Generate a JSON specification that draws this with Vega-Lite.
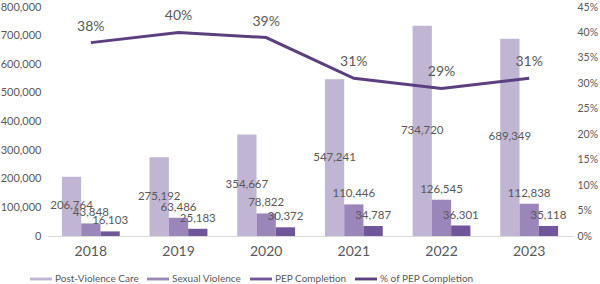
{
  "$schema": "https://vega.github.io/schema/vega-lite/v6.json",
  "width": 526,
  "height": 229,
  "autosize": {"type": "none"},
  "padding": {"left": 47, "right": 27, "top": 7, "bottom": 48},
  "config": {
    "font": "Lato",
    "view": {"stroke": null},
    "axis": {"labelColor": "#595959", "labelFont": "Lato", "grid": false, "ticks": false, "domain": false, "title": null}
  },
  "datasets": {
    "bars": [
      {"year": "2018", "category": "Post-Violence Care", "value": 206764},
      {"year": "2018", "category": "Sexual Violence", "value": 43848},
      {"year": "2018", "category": "PEP Completion", "value": 16103},
      {"year": "2019", "category": "Post-Violence Care", "value": 275192},
      {"year": "2019", "category": "Sexual Violence", "value": 63486},
      {"year": "2019", "category": "PEP Completion", "value": 25183},
      {"year": "2020", "category": "Post-Violence Care", "value": 354667},
      {"year": "2020", "category": "Sexual Violence", "value": 78822},
      {"year": "2020", "category": "PEP Completion", "value": 30372},
      {"year": "2021", "category": "Post-Violence Care", "value": 547241},
      {"year": "2021", "category": "Sexual Violence", "value": 110446},
      {"year": "2021", "category": "PEP Completion", "value": 34787},
      {"year": "2022", "category": "Post-Violence Care", "value": 734720},
      {"year": "2022", "category": "Sexual Violence", "value": 126545},
      {"year": "2022", "category": "PEP Completion", "value": 36301},
      {"year": "2023", "category": "Post-Violence Care", "value": 689349},
      {"year": "2023", "category": "Sexual Violence", "value": 112838},
      {"year": "2023", "category": "PEP Completion", "value": 35118}
    ],
    "pct": [
      {"year": "2018", "pct": 0.38},
      {"year": "2019", "pct": 0.40},
      {"year": "2020", "pct": 0.39},
      {"year": "2021", "pct": 0.31},
      {"year": "2022", "pct": 0.29},
      {"year": "2023", "pct": 0.31}
    ]
  },
  "encoding": {
    "x": {
      "field": "year", "type": "nominal",
      "scale": {"paddingInner": 0.34, "paddingOuter": 0.17},
      "axis": {"labelAngle": 0, "labelFontSize": 14, "domain": true, "domainColor": "#d9d9d9", "labelPadding": 8}
    }
  },
  "layer": [
    {
      "layer": [
        {
          "data": {"name": "bars"},
          "mark": {"type": "bar"},
          "encoding": {
            "xOffset": {"field": "category", "type": "nominal", "scale": {"domain": ["Post-Violence Care", "Sexual Violence", "PEP Completion"], "paddingInner": 0}},
            "y": {"field": "value", "type": "quantitative", "scale": {"domain": [0, 800000]},
              "axis": {"values": [0, 100000, 200000, 300000, 400000, 500000, 600000, 700000, 800000], "format": ",.0f", "labelFontSize": 11, "labelPadding": 6}},
            "color": {
              "field": "category", "type": "nominal",
              "scale": {"domain": ["Post-Violence Care", "Sexual Violence", "PEP Completion", "% of PEP Completion"], "range": ["#c0b5d3", "#9b86b9", "#71559a", "#5b3f7f"]},
              "legend": {
                "title": null, "orient": "none", "direction": "horizontal", "legendX": -17, "legendY": 261,
                "symbolType": "M-1,-0.13H1V0.13H-1Z", "symbolSize": 484, "symbolStrokeWidth": 0,
                "labelFontSize": 10, "labelColor": "#595959", "columnPadding": 8, "labelOffset": 3
              }
            }
          }
        },
        {
          "data": {"name": "bars"},
          "transform": [
            {"filter": "datum.category == 'Post-Violence Care'"},
            {"calculate": "datum.value / 2", "as": "mid"}
          ],
          "mark": {"type": "text", "fontSize": 11.5, "color": "#595959", "baseline": "middle"},
          "encoding": {
            "xOffset": {"field": "category", "type": "nominal"},
            "y": {"field": "mid", "type": "quantitative", "scale": {"domain": [0, 800000]},
              "axis": {"values": [0, 100000, 200000, 300000, 400000, 500000, 600000, 700000, 800000], "format": ",.0f", "labelFontSize": 11, "labelPadding": 6}},
            "text": {"field": "value", "type": "quantitative", "format": ","}
          }
        },
        {
          "data": {"name": "bars"},
          "transform": [{"filter": "datum.category != 'Post-Violence Care'"}],
          "mark": {"type": "text", "fontSize": 11.5, "color": "#595959", "baseline": "bottom", "dy": -5},
          "encoding": {
            "xOffset": {"field": "category", "type": "nominal"},
            "y": {"field": "value", "type": "quantitative", "scale": {"domain": [0, 800000]},
              "axis": {"values": [0, 100000, 200000, 300000, 400000, 500000, 600000, 700000, 800000], "format": ",.0f", "labelFontSize": 11, "labelPadding": 6}},
            "text": {"field": "value", "type": "quantitative", "format": ","}
          }
        }
      ]
    },
    {
      "data": {"name": "pct"},
      "layer": [
        {
          "mark": {"type": "line", "strokeWidth": 3},
          "encoding": {
            "y": {"field": "pct", "type": "quantitative", "scale": {"domain": [0, 0.45]},
              "axis": {"orient": "right", "values": [0, 0.05, 0.1, 0.15, 0.2, 0.25, 0.3, 0.35, 0.4, 0.45], "format": ".0%", "labelFontSize": 10.5, "labelPadding": 4}},
            "color": {"datum": "% of PEP Completion", "type": "nominal"}
          }
        },
        {
          "mark": {"type": "text", "fontSize": 14, "color": "#595959", "baseline": "bottom", "dy": -9},
          "encoding": {
            "y": {"field": "pct", "type": "quantitative", "scale": {"domain": [0, 0.45]},
              "axis": {"orient": "right", "values": [0, 0.05, 0.1, 0.15, 0.2, 0.25, 0.3, 0.35, 0.4, 0.45], "format": ".0%", "labelFontSize": 10.5, "labelPadding": 4}},
            "text": {"field": "pct", "type": "quantitative", "format": ".0%"}
          }
        }
      ]
    }
  ],
  "resolve": {"scale": {"y": "independent"}}
}
